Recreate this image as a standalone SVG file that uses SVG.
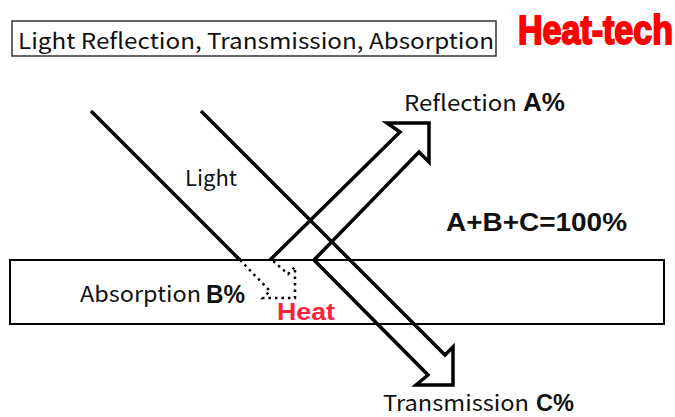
<svg xmlns="http://www.w3.org/2000/svg" width="675" height="417" viewBox="0 0 675 417">
<style>
text{font-family:"Noto Sans CJK JP","Liberation Sans",sans-serif;fill:#111;font-size:22px}
text.b{font-family:"Liberation Sans",sans-serif;font-weight:700}
.l{fill:none;stroke:#000;stroke-width:3.5;stroke-linejoin:miter}
.box{fill:#fff;stroke:#000;stroke-width:2}
.d{fill:none;stroke:#000;stroke-width:2.5;stroke-dasharray:2.5 4}
</style>
<rect width="675" height="417" fill="#fff"/>
<g id="title"><rect x="12" y="21" width="484" height="35" fill="#fff" stroke="#333" stroke-width="1.5"/>
<text x="18" y="49" textLength="476" lengthAdjust="spacingAndGlyphs" font-size="23">Light Reflection, Transmission, Absorption</text></g>
<g id="logo"><text transform="translate(518 44) scale(.83 1)" class="b" style="font-size:41px;fill:#f00;stroke:#f00;stroke-width:2">Heat-tech</text></g>
<g id="medium"><rect class="box" x="10" y="260" width="654" height="64"/></g>
<g id="connectors">
<path class="l" d="M91 111L240 260"/>
<path class="l" d="M201 111L445 355L453 347V385H416L428 375L314 260"/>
<path class="l" d="M270 260L400 132L387 123H429V162L419 152L314 260"/>
<path class="d" d="M240 260L270 291L263 298H295V267L288 274L272 260"/>
</g>
<g id="labels">
<text x="185" y="186">Light</text>
<text x="404" y="111" textLength="113" lengthAdjust="spacingAndGlyphs">Reflection</text>
<text x="523" y="111" class="b" textLength="42" lengthAdjust="spacingAndGlyphs" style="font-size:26px">A%</text>
<text x="446" y="231" class="b" textLength="181" lengthAdjust="spacingAndGlyphs" style="font-size:26px">A+B+C=100%</text>
<text x="80" y="302" textLength="121" lengthAdjust="spacingAndGlyphs">Absorption</text>
<text x="206" y="303" class="b" textLength="39" lengthAdjust="spacingAndGlyphs" style="font-size:26px">B%</text>
<text x="277" y="320" class="b" textLength="58" lengthAdjust="spacingAndGlyphs" style="font-size:24px;fill:#f8243c">Heat</text>
<text x="383" y="411" textLength="146" lengthAdjust="spacingAndGlyphs">Transmission</text>
<text x="536" y="411" class="b" textLength="38" lengthAdjust="spacingAndGlyphs" style="font-size:24px">C%</text>
</g>
</svg>
